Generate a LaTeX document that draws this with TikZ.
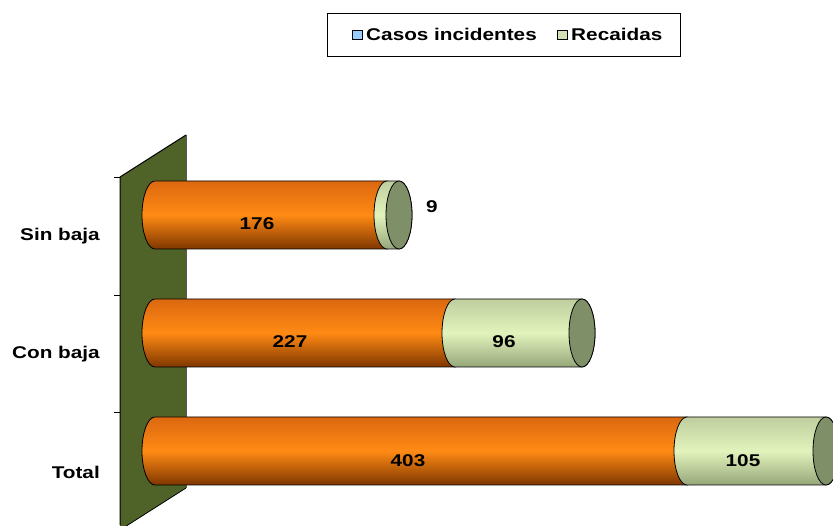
\documentclass[tikz,border=0pt]{standalone}
\usepackage{fontspec}
\setmainfont{Liberation Sans}
\usepackage{tikz}

\definecolor{wallgreen}{HTML}{4F6228}
\definecolor{barTop}{HTML}{DC6810}
\definecolor{barMid}{HTML}{FF8A14}
\definecolor{barBot}{HTML}{7E3600}
\definecolor{recTop}{HTML}{BFCE9E}
\definecolor{recMid}{HTML}{E2F3BC}
\definecolor{recBot}{HTML}{96A67A}
\definecolor{capgreen}{HTML}{7F8F68}
\definecolor{legblue}{HTML}{99CCFF}
\definecolor{leggreen}{HTML}{D2E2B0}

% half-height and half-width of the bar ends
\def\ry{34}
\def\rx{13}
% cylinder piece from #1 to #2 at height #3
\newcommand{\cylpiece}[4]{%
  \draw[#4] (#1,#3+\ry) -- (#2,#3+\ry)
    arc[start angle=90, end angle=-90, x radius=\rx, y radius=\ry]
    -- (#1,#3-\ry)
    arc[start angle=270, end angle=90, x radius=\rx, y radius=\ry] -- cycle;}

\tikzset{
  txt/.style={font=\bfseries\fontsize{17}{20}\selectfont, xscale=1.22, inner sep=0pt},
  incid/.style={line width=0.8pt, top color=barTop, bottom color=barBot, middle color=barMid},
  recaid/.style={line width=0.8pt, top color=recTop, bottom color=recBot, middle color=recMid},
  endcap/.style={line width=0.8pt, fill=capgreen},
}

\begin{document}
\begin{tikzpicture}[x=1pt, y=1pt]
	\useasboundingbox (0,0) rectangle (833,525);

	% Legend
	\draw[line width=0.8pt] (327,469) rectangle (680,512);
	\draw[line width=0.8pt, fill=legblue] (352,486) rectangle (362,495);
	\node[txt, anchor=west] (legcasos) at (366,491) {Casos incidentes};
	\draw[line width=0.8pt, fill=leggreen] (557,486) rectangle (567,495);
	\node[txt, anchor=west] (legrec) at (571,491) {Recaidas};

	% Back wall
	\fill[wallgreen] (120,348) -- (186,390) -- (186,37) -- (120,-5) -- cycle;
	\draw[gray!70!black, line width=0.5pt] (186,390) -- (186,37);
	\draw[line width=1pt] (120,0) -- (120,348) -- (186,390);
	\draw[line width=0.8pt] (186,37) -- (120,-5);
	% ticks
	\foreach \t in {348,230,113}
		\draw[line width=0.8pt] (114,\t) -- (120,\t);

	% Sin baja: 176 + 9
	\cylpiece{155}{387}{310}{incid}
	\cylpiece{387}{399}{310}{recaid}
	\draw[endcap] (399,310) ellipse[x radius=\rx, y radius=\ry];

	% Con baja: 227 + 96
	\cylpiece{155}{455}{192}{incid}
	\cylpiece{455}{582}{192}{recaid}
	\draw[endcap] (582,192) ellipse[x radius=\rx, y radius=\ry];

	% Total: 403 + 105
	\cylpiece{155}{687}{74}{incid}
	\cylpiece{687}{826}{74}{recaid}
	\draw[endcap] (826,74) ellipse[x radius=\rx, y radius=\ry];

	% Category labels
	\node[txt, anchor=east] (sinbaja) at (100,289) {Sin baja};
	\node[txt, anchor=east] (conbaja) at (100,171) {Con baja};
	\node[txt, anchor=east] (total) at (100,53) {Total};

	% Data labels
	\node[txt] (vsin) at (257,301) {176};
	\node[txt] (vsinr) at (432,318) {9};
	\node[txt] (vcon) at (290,183) {227};
	\node[txt] (vconr) at (504,183) {96};
	\node[txt] (vtot) at (408,64) {403};
	\node[txt] (vtotr) at (743,64) {105};
\end{tikzpicture}
\end{document}
